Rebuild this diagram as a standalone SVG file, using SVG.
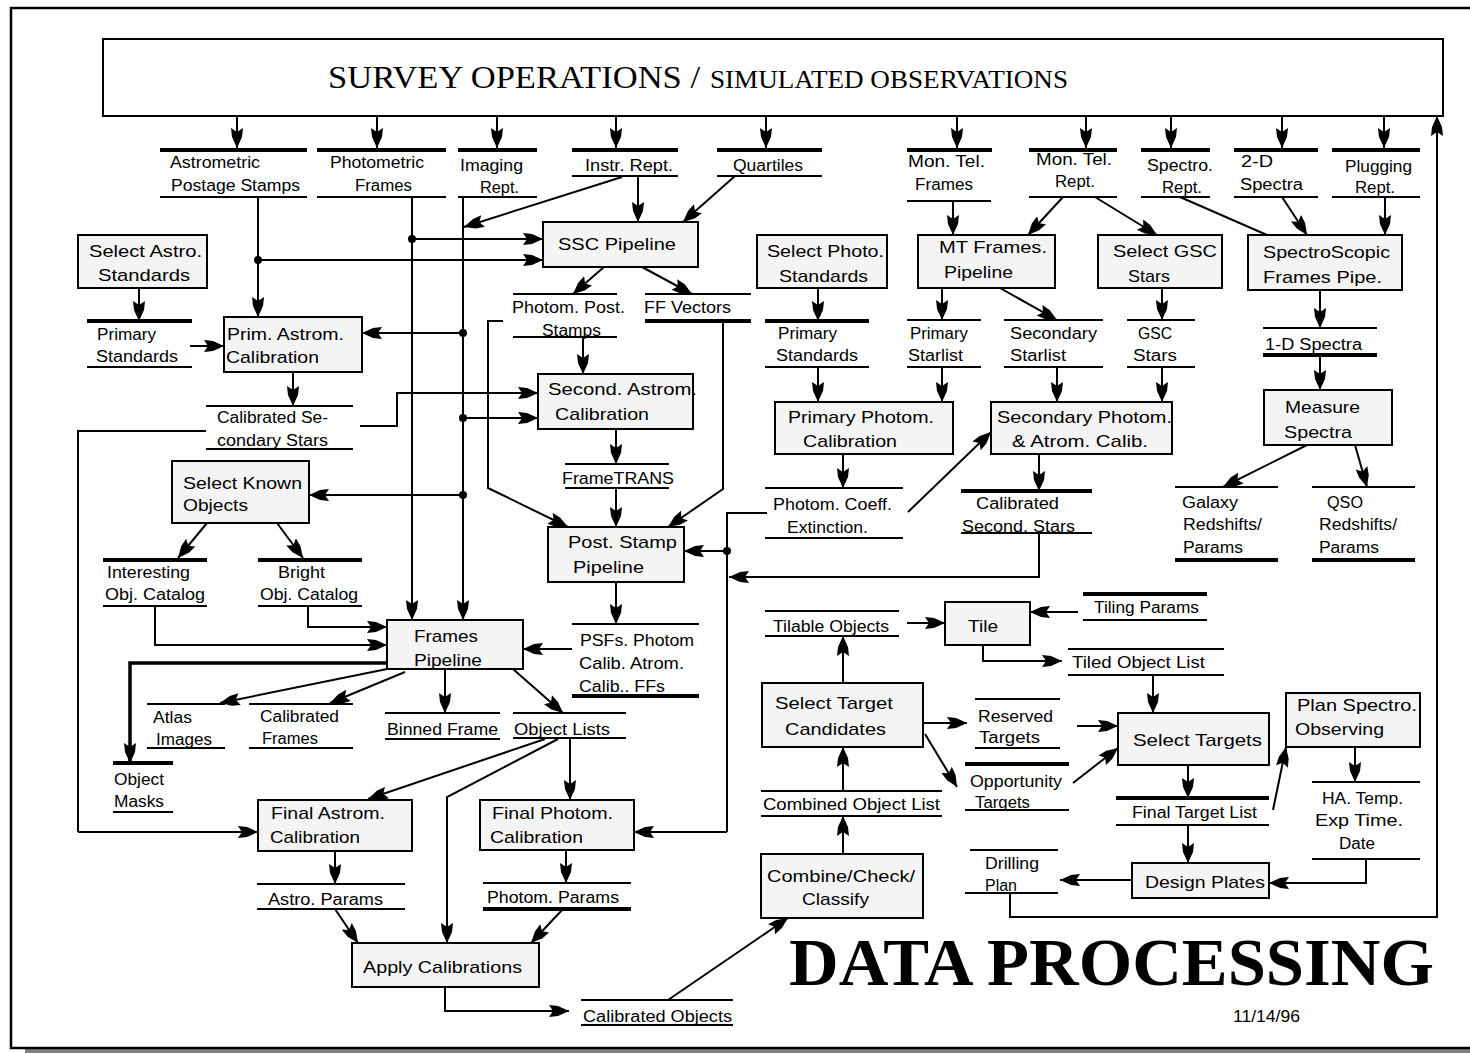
<svg xmlns="http://www.w3.org/2000/svg" width="1470" height="1053" viewBox="0 0 1470 1053">
<defs>
<marker id="ah" viewBox="0 -7 20 14" refX="20" refY="0" markerWidth="20" markerHeight="14" markerUnits="userSpaceOnUse" orient="auto"><path d="M0,-6 L9,-5 L20,0 L9,5 L0,6 L4,0 Z" fill="#000"/></marker>
<style>
.box{fill:#f4f4f4;stroke:#000;stroke-width:2}
.c{fill:none;stroke:#000;stroke-width:2}
.a{marker-end:url(#ah)}
.k{stroke-width:3.5}
.sn{stroke:#000;stroke-width:2}
.sk{stroke:#000;stroke-width:4}
.t{font-family:"Liberation Sans",Arial,Helvetica,sans-serif;font-size:16px;fill:#000}
.b{font-size:17px}
.dot{fill:#000}
</style>
</defs>
<rect x="0" y="0" width="1470" height="1053" fill="#fff"/>
<g id="frame">
<rect x="25" y="1049" width="1445" height="4" fill="#808080"/>
<path d="M1470 8H11V1048H1470" fill="none" stroke="#000" stroke-width="2.5"/>
</g>

<g id="survey">
<rect x="103" y="39" width="1340" height="77" fill="#fff" stroke="#000" stroke-width="2"/>
<text x="328" y="88" font-family="'Liberation Serif','Times New Roman',serif" fill="#000"><tspan font-size="32" textLength="372" lengthAdjust="spacingAndGlyphs">SURVEY OPERATIONS /</tspan><tspan x="710" font-size="25" textLength="358" lengthAdjust="spacingAndGlyphs">SIMULATED OBSERVATIONS</tspan></text>
</g>

<g id="connectors">
<path class="c a" d="M237 116V148"/>
<path class="c a" d="M377 116V148"/>
<path class="c a" d="M497 116V148"/>
<path class="c a" d="M616 116V148"/>
<path class="c a" d="M766 116V148"/>
<path class="c a" d="M957 116V148"/>
<path class="c a" d="M1086 116V148"/>
<path class="c a" d="M1171 116V148"/>
<path class="c a" d="M1282 116V148"/>
<path class="c a" d="M1384 116V148"/>
<path class="c a" d="M258 197V317"/>
<path class="c a" d="M258 260H543"/>
<path class="c a" d="M412 197V620"/>
<path class="c a" d="M412 239H543"/>
<path class="c a" d="M463 197V620"/>
<path class="c a" d="M463 333H362"/>
<path class="c a" d="M463 418H538"/>
<path class="c a" d="M463 495H309"/>
<path class="c a" d="M622 177L464 227"/>
<path class="c a" d="M638 176V222"/>
<path class="c a" d="M735 176L683 222"/>
<path class="c a" d="M604 267L573 294"/>
<path class="c a" d="M642 267L692 294"/>
<path class="c a" d="M139 288V321"/>
<path class="c a" d="M190 346H224"/>
<path class="c a" d="M293 372V406"/>
<path class="c a" d="M360 426H397V393H538"/>
<path class="c" d="M206 431H78V832"/>
<path class="c a" d="M78 832H258" stroke-width="3"/>
<path class="c a" d="M583 337V374"/>
<path class="c a" d="M503 321H488V488L568 527"/>
<path class="c a" d="M723 321V489L668 527"/>
<path class="c a" d="M616 429V464"/>
<path class="c a" d="M616 488V527"/>
<path class="c a" d="M207 523L178 558"/>
<path class="c a" d="M277 523L303 558"/>
<path class="c a" d="M155 606V645H387"/>
<path class="c a" d="M308 606V627H387"/>
<path class="c a k" d="M387 663H130V763"/>
<path class="c a" d="M392 668L220 703"/>
<path class="c a" d="M405 672L330 703"/>
<path class="c a" d="M445 669V713"/>
<path class="c a" d="M513 669L563 713"/>
<path class="c a" d="M616 582V624"/>
<path class="c a" d="M572 649H523"/>
<path class="c" d="M767 513H727V832"/>
<path class="c a" d="M727 832H634" stroke-width="3"/>
<path class="c a" d="M727 551H684"/>
<path class="c a" d="M1039 533V577H729"/>
<path class="c a" d="M570 738V800"/>
<path class="c a" d="M545 739L368 799"/>
<path class="c a" d="M558 739L447 797V943"/>
<path class="c a" d="M335 851V884"/>
<path class="c a" d="M335 909L358 943"/>
<path class="c a" d="M566 850V883"/>
<path class="c a" d="M563 909L531 943"/>
<path class="c a" d="M445 987V1011H569"/>
<path class="c a" d="M668 1000L788 918" stroke-width="2.5"/>
<path class="c a" d="M843 854V816"/>
<path class="c a" d="M843 791V747"/>
<path class="c a" d="M843 683V636"/>
<path class="c a" d="M907 623H945"/>
<path class="c a" d="M1078 612H1030"/>
<path class="c a" d="M983 645V661H1062" stroke-width="3"/>
<path class="c a" d="M1153 675V713"/>
<path class="c a" d="M923 723H967"/>
<path class="c a" d="M925 734L957 787"/>
<path class="c a" d="M1077 726H1118"/>
<path class="c a" d="M1073 783L1118 748"/>
<path class="c a" d="M1188 765V798"/>
<path class="c a" d="M1273 810L1286 747"/>
<path class="c a" d="M1355 747V782"/>
<path class="c a" d="M1366 859V883H1269"/>
<path class="c a" d="M1188 825V863"/>
<path class="c a" d="M1132 880H1060"/>
<path class="c a" d="M1010 893V917H1437V116"/>
<path class="c a" d="M818 288V321"/>
<path class="c a" d="M818 367V402"/>
<path class="c a" d="M953 201V235"/>
<path class="c a" d="M942 288V320"/>
<path class="c a" d="M1000 288L1057 320"/>
<path class="c a" d="M942 367V402"/>
<path class="c a" d="M1057 367V402"/>
<path class="c a" d="M1162 288V320"/>
<path class="c a" d="M1162 367V402"/>
<path class="c a" d="M1063 197L1028 235"/>
<path class="c a" d="M1095 197L1157 235"/>
<path class="c" d="M1180 197L1267 235"/>
<path class="c a" d="M1282 197L1307 235"/>
<path class="c a" d="M1385 197V235"/>
<path class="c a" d="M1320 290V328"/>
<path class="c a" d="M1320 355V390"/>
<path class="c a" d="M1307 445L1223 487"/>
<path class="c a" d="M1355 445L1367 487"/>
<path class="c a" d="M843 454V488"/>
<path class="c a" d="M908 512L991 432" stroke-width="2.5"/>
<path class="c a" d="M1039 454V491"/>
<circle class="dot" cx="258" cy="260" r="4"/>
<circle class="dot" cx="412" cy="239" r="4"/>
<circle class="dot" cx="463" cy="333" r="4"/>
<circle class="dot" cx="463" cy="418" r="4"/>
<circle class="dot" cx="463" cy="495" r="4"/>
<circle class="dot" cx="727" cy="551" r="4"/>
</g>

<!-- data stores -->
<g id="ds-astrometric"><line class="sk" x1="160" y1="150" x2="307" y2="150"/><line class="sn" x1="160" y1="197" x2="307" y2="197"/><text class="t" x="170" y="168" textLength="90" lengthAdjust="spacingAndGlyphs">Astrometric</text><text class="t" x="171" y="191" textLength="129" lengthAdjust="spacingAndGlyphs">Postage Stamps</text></g>
<g id="ds-photometric"><line class="sk" x1="317" y1="150" x2="446" y2="150"/><line class="sn" x1="317" y1="197" x2="446" y2="197"/><text class="t" x="330" y="168" textLength="94" lengthAdjust="spacingAndGlyphs">Photometric</text><text class="t" x="355" y="191" textLength="57" lengthAdjust="spacingAndGlyphs">Frames</text></g>
<g id="ds-imaging"><line class="sk" x1="458" y1="150" x2="537" y2="150"/><line class="sn" x1="458" y1="197" x2="537" y2="197"/><text class="t" x="460" y="171" textLength="63" lengthAdjust="spacingAndGlyphs">Imaging</text><text class="t" x="480" y="193" textLength="39" lengthAdjust="spacingAndGlyphs">Rept.</text></g>
<g id="ds-instr"><line class="sk" x1="572" y1="150" x2="678" y2="150"/><line class="sn" x1="572" y1="176" x2="678" y2="176"/><text class="t" x="585" y="171" textLength="88" lengthAdjust="spacingAndGlyphs">Instr. Rept.</text></g>
<g id="ds-quartiles"><line class="sk" x1="717" y1="150" x2="822" y2="150"/><line class="sn" x1="717" y1="176" x2="822" y2="176"/><text class="t" x="733" y="171" textLength="70" lengthAdjust="spacingAndGlyphs">Quartiles</text></g>
<g id="ds-montelframes"><line class="sk" x1="907" y1="150" x2="992" y2="150"/><line class="sn" x1="907" y1="201" x2="991" y2="201"/><text class="t" x="908" y="167" textLength="77" lengthAdjust="spacingAndGlyphs">Mon. Tel.</text><text class="t" x="915" y="190" textLength="58" lengthAdjust="spacingAndGlyphs">Frames</text></g>
<g id="ds-montelrept"><line class="sk" x1="1029" y1="150" x2="1117" y2="150"/><line class="sn" x1="1029" y1="197" x2="1117" y2="197"/><text class="t" x="1036" y="165" textLength="76" lengthAdjust="spacingAndGlyphs">Mon. Tel.</text><text class="t" x="1055" y="187" textLength="40" lengthAdjust="spacingAndGlyphs">Rept.</text></g>
<g id="ds-spectrorept"><line class="sk" x1="1141" y1="150" x2="1210" y2="150"/><line class="sn" x1="1141" y1="197" x2="1210" y2="197"/><text class="t" x="1147" y="171" textLength="66" lengthAdjust="spacingAndGlyphs">Spectro.</text><text class="t" x="1162" y="193" textLength="40" lengthAdjust="spacingAndGlyphs">Rept.</text></g>
<g id="ds-2dspectra"><line class="sk" x1="1234" y1="150" x2="1318" y2="150"/><line class="sn" x1="1234" y1="197" x2="1318" y2="197"/><text class="t" x="1241" y="167" textLength="32" lengthAdjust="spacingAndGlyphs">2-D</text><text class="t" x="1240" y="190" textLength="63" lengthAdjust="spacingAndGlyphs">Spectra</text></g>
<g id="ds-plugging"><line class="sk" x1="1332" y1="150" x2="1420" y2="150"/><line class="sn" x1="1332" y1="197" x2="1420" y2="197"/><text class="t" x="1345" y="172" textLength="67" lengthAdjust="spacingAndGlyphs">Plugging</text><text class="t" x="1355" y="193" textLength="40" lengthAdjust="spacingAndGlyphs">Rept.</text></g>
<g id="ds-primstd-left"><line class="sk" x1="87" y1="321" x2="192" y2="321"/><line class="sn" x1="87" y1="367" x2="192" y2="367"/><text class="t" x="97" y="340" textLength="59" lengthAdjust="spacingAndGlyphs">Primary</text><text class="t" x="96" y="362" textLength="82" lengthAdjust="spacingAndGlyphs">Standards</text></g>
<g id="ds-calsecstars"><line class="sn" x1="206" y1="406" x2="353" y2="406"/><line class="sn" x1="206" y1="449" x2="353" y2="449"/><text class="t" x="217" y="423" textLength="111" lengthAdjust="spacingAndGlyphs">Calibrated Se-</text><text class="t" x="217" y="446" textLength="111" lengthAdjust="spacingAndGlyphs">condary Stars</text></g>
<g id="ds-photompost"><line class="sn" x1="513" y1="294" x2="617" y2="294"/><line class="sn" x1="513" y1="337" x2="617" y2="337"/><text class="t" x="512" y="313" textLength="113" lengthAdjust="spacingAndGlyphs">Photom. Post.</text><text class="t" x="542" y="336" textLength="59" lengthAdjust="spacingAndGlyphs">Stamps</text></g>
<g id="ds-ffvectors"><line class="sn" x1="645" y1="294" x2="751" y2="294"/><line class="sk" x1="645" y1="321" x2="751" y2="321"/><text class="t" x="644" y="313" textLength="87" lengthAdjust="spacingAndGlyphs">FF Vectors</text></g>
<g id="ds-frametrans"><line class="sn" x1="565" y1="464" x2="669" y2="464"/><line class="sn" x1="565" y1="488" x2="669" y2="488"/><text class="t" x="562" y="484" textLength="112" lengthAdjust="spacingAndGlyphs">FrameTRANS</text></g>
<g id="ds-primstd-mid"><line class="sk" x1="765" y1="321" x2="869" y2="321"/><line class="sn" x1="765" y1="367" x2="869" y2="367"/><text class="t" x="778" y="339" textLength="59" lengthAdjust="spacingAndGlyphs">Primary</text><text class="t" x="776" y="361" textLength="82" lengthAdjust="spacingAndGlyphs">Standards</text></g>
<g id="ds-primstarlist"><line class="sn" x1="907" y1="320" x2="981" y2="320"/><line class="sn" x1="907" y1="367" x2="981" y2="367"/><text class="t" x="910" y="339" textLength="58" lengthAdjust="spacingAndGlyphs">Primary</text><text class="t" x="908" y="361" textLength="55" lengthAdjust="spacingAndGlyphs">Starlist</text></g>
<g id="ds-secstarlist"><line class="sn" x1="1004" y1="320" x2="1103" y2="320"/><line class="sn" x1="1004" y1="367" x2="1103" y2="367"/><text class="t" x="1010" y="339" textLength="87" lengthAdjust="spacingAndGlyphs">Secondary</text><text class="t" x="1010" y="361" textLength="56" lengthAdjust="spacingAndGlyphs">Starlist</text></g>
<g id="ds-gscstars"><line class="sn" x1="1127" y1="320" x2="1195" y2="320"/><line class="sn" x1="1127" y1="367" x2="1195" y2="367"/><text class="t" x="1138" y="339" textLength="34" lengthAdjust="spacingAndGlyphs">GSC</text><text class="t" x="1133" y="361" textLength="44" lengthAdjust="spacingAndGlyphs">Stars</text></g>
<g id="ds-1dspectra"><line class="sn" x1="1263" y1="328" x2="1377" y2="328"/><line class="sk" x1="1263" y1="355" x2="1377" y2="355"/><text class="t" x="1265" y="350" textLength="97" lengthAdjust="spacingAndGlyphs">1-D Spectra</text></g>
<g id="ds-photomcoeff"><line class="sn" x1="765" y1="488" x2="903" y2="488"/><line class="sn" x1="765" y1="538" x2="903" y2="538"/><text class="t" x="773" y="510" textLength="119" lengthAdjust="spacingAndGlyphs">Photom. Coeff.</text><text class="t" x="787" y="533" textLength="81" lengthAdjust="spacingAndGlyphs">Extinction.</text></g>
<g id="ds-calsecondstars"><line class="sk" x1="961" y1="491" x2="1092" y2="491"/><line class="sn" x1="961" y1="533" x2="1092" y2="533"/><text class="t" x="976" y="509" textLength="83" lengthAdjust="spacingAndGlyphs">Calibrated</text><text class="t" x="962" y="532" textLength="113" lengthAdjust="spacingAndGlyphs">Second. Stars</text></g>
<g id="ds-galaxy"><line class="sn" x1="1175" y1="487" x2="1278" y2="487"/><line class="sk" x1="1175" y1="560" x2="1278" y2="560"/><text class="t" x="1182" y="508" textLength="56" lengthAdjust="spacingAndGlyphs">Galaxy</text><text class="t" x="1183" y="530" textLength="79" lengthAdjust="spacingAndGlyphs">Redshifts/</text><text class="t" x="1183" y="553" textLength="60" lengthAdjust="spacingAndGlyphs">Params</text></g>
<g id="ds-qso"><line class="sn" x1="1312" y1="487" x2="1415" y2="487"/><line class="sk" x1="1312" y1="560" x2="1415" y2="560"/><text class="t" x="1327" y="508" textLength="36" lengthAdjust="spacingAndGlyphs">QSO</text><text class="t" x="1319" y="530" textLength="78" lengthAdjust="spacingAndGlyphs">Redshifts/</text><text class="t" x="1319" y="553" textLength="60" lengthAdjust="spacingAndGlyphs">Params</text></g>
<g id="ds-interesting"><line class="sk" x1="103" y1="560" x2="207" y2="560"/><line class="sn" x1="103" y1="606" x2="207" y2="606"/><text class="t" x="107" y="578" textLength="83" lengthAdjust="spacingAndGlyphs">Interesting</text><text class="t" x="105" y="600" textLength="100" lengthAdjust="spacingAndGlyphs">Obj. Catalog</text></g>
<g id="ds-bright"><line class="sk" x1="258" y1="560" x2="362" y2="560"/><line class="sn" x1="258" y1="606" x2="362" y2="606"/><text class="t" x="278" y="578" textLength="47" lengthAdjust="spacingAndGlyphs">Bright</text><text class="t" x="260" y="600" textLength="98" lengthAdjust="spacingAndGlyphs">Obj. Catalog</text></g>
<g id="ds-atlas"><line class="sn" x1="147" y1="704" x2="225" y2="704"/><line class="sn" x1="147" y1="748" x2="225" y2="748"/><text class="t" x="153" y="723" textLength="39" lengthAdjust="spacingAndGlyphs">Atlas</text><text class="t" x="156" y="745" textLength="56" lengthAdjust="spacingAndGlyphs">Images</text></g>
<g id="ds-calframes"><line class="sn" x1="249" y1="704" x2="353" y2="704"/><line class="sn" x1="249" y1="748" x2="353" y2="748"/><text class="t" x="260" y="722" textLength="79" lengthAdjust="spacingAndGlyphs">Calibrated</text><text class="t" x="262" y="744" textLength="56" lengthAdjust="spacingAndGlyphs">Frames</text></g>
<g id="ds-binned"><line class="sn" x1="385" y1="713" x2="500" y2="713"/><line class="sn" x1="385" y1="739" x2="500" y2="739"/><text class="t" x="387" y="735" textLength="111" lengthAdjust="spacingAndGlyphs">Binned Frame</text></g>
<g id="ds-objlists"><line class="sn" x1="513" y1="713" x2="626" y2="713"/><line class="sn" x1="513" y1="738" x2="626" y2="738"/><text class="t" x="514" y="735" textLength="96" lengthAdjust="spacingAndGlyphs">Object Lists</text></g>
<g id="ds-psfs"><line class="sn" x1="572" y1="624" x2="699" y2="624"/><line class="sk" x1="572" y1="696" x2="699" y2="696"/><text class="t" x="580" y="646" textLength="114" lengthAdjust="spacingAndGlyphs">PSFs. Photom</text><text class="t" x="579" y="669" textLength="105" lengthAdjust="spacingAndGlyphs">Calib. Atrom.</text><text class="t" x="579" y="692" textLength="86" lengthAdjust="spacingAndGlyphs">Calib.. FFs</text></g>
<g id="ds-objmasks"><line class="sk" x1="113" y1="763" x2="173" y2="763"/><line class="sn" x1="113" y1="812" x2="173" y2="812"/><text class="t" x="114" y="785" textLength="50" lengthAdjust="spacingAndGlyphs">Object</text><text class="t" x="114" y="807" textLength="50" lengthAdjust="spacingAndGlyphs">Masks</text></g>
<g id="ds-tilable"><line class="sn" x1="765" y1="611" x2="899" y2="611"/><line class="sn" x1="765" y1="636" x2="899" y2="636"/><text class="t" x="773" y="632" textLength="116" lengthAdjust="spacingAndGlyphs">Tilable Objects</text></g>
<g id="ds-tilingparams"><line class="sk" x1="1083" y1="594" x2="1207" y2="594"/><line class="sn" x1="1083" y1="620" x2="1207" y2="620"/><text class="t" x="1094" y="613" textLength="105" lengthAdjust="spacingAndGlyphs">Tiling Params</text></g>
<g id="ds-tiledlist"><line class="sn" x1="1068" y1="649" x2="1224" y2="649"/><line class="sn" x1="1068" y1="675" x2="1224" y2="675"/><text class="t" x="1072" y="668" textLength="133" lengthAdjust="spacingAndGlyphs">Tiled  Object List</text></g>
<g id="ds-reserved"><line class="sn" x1="975" y1="699" x2="1060" y2="699"/><line class="sn" x1="975" y1="748" x2="1060" y2="748"/><text class="t" x="978" y="722" textLength="75" lengthAdjust="spacingAndGlyphs">Reserved</text><text class="t" x="979" y="743" textLength="61" lengthAdjust="spacingAndGlyphs">Targets</text></g>
<g id="ds-opportunity"><line class="sk" x1="965" y1="764" x2="1069" y2="764"/><line class="sn" x1="965" y1="810" x2="1069" y2="810"/><text class="t" x="970" y="787" textLength="92" lengthAdjust="spacingAndGlyphs">Opportunity</text><text class="t" x="975" y="808" textLength="55" lengthAdjust="spacingAndGlyphs">Targets</text></g>
<g id="ds-combined"><line class="sn" x1="761" y1="791" x2="942" y2="791"/><line class="sn" x1="761" y1="816" x2="942" y2="816"/><text class="t" x="763" y="810" textLength="177" lengthAdjust="spacingAndGlyphs">Combined  Object List</text></g>
<g id="ds-finaltarget"><line class="sk" x1="1116" y1="798" x2="1269" y2="798"/><line class="sn" x1="1116" y1="825" x2="1269" y2="825"/><text class="t" x="1132" y="818" textLength="125" lengthAdjust="spacingAndGlyphs">Final Target List</text></g>
<g id="ds-hatemp"><line class="sn" x1="1312" y1="782" x2="1420" y2="782"/><line class="sn" x1="1312" y1="859" x2="1420" y2="859"/><text class="t" x="1322" y="804" textLength="81" lengthAdjust="spacingAndGlyphs">HA. Temp.</text><text class="t" x="1315" y="826" textLength="88" lengthAdjust="spacingAndGlyphs">Exp Time.</text><text class="t" x="1339" y="849" textLength="36" lengthAdjust="spacingAndGlyphs">Date</text></g>
<g id="ds-drilling"><line class="sn" x1="970" y1="850" x2="1058" y2="850"/><line class="sn" x1="965" y1="893" x2="1058" y2="893"/><text class="t" x="985" y="869" textLength="54" lengthAdjust="spacingAndGlyphs">Drilling</text><text class="t" x="985" y="891" textLength="32" lengthAdjust="spacingAndGlyphs">Plan</text></g>
<g id="ds-astroparams"><line class="sn" x1="257" y1="884" x2="405" y2="884"/><line class="sn" x1="257" y1="909" x2="405" y2="909"/><text class="t" x="268" y="905" textLength="115" lengthAdjust="spacingAndGlyphs">Astro. Params</text></g>
<g id="ds-photomparams"><line class="sn" x1="483" y1="883" x2="631" y2="883"/><line class="sk" x1="483" y1="909" x2="631" y2="909"/><text class="t" x="487" y="903" textLength="132" lengthAdjust="spacingAndGlyphs">Photom. Params</text></g>
<g id="ds-calobjects"><line class="sn" x1="581" y1="1000" x2="733" y2="1000"/><line class="sn" x1="581" y1="1025" x2="733" y2="1025"/><text class="t" x="583" y="1022" textLength="149" lengthAdjust="spacingAndGlyphs">Calibrated Objects</text></g>

<!-- process boxes -->
<g id="p-selastro"><rect class="box" x="78" y="235" width="129" height="53"/><text class="t b" x="89" y="257" textLength="113" lengthAdjust="spacingAndGlyphs">Select Astro.</text><text class="t b" x="98" y="281" textLength="92" lengthAdjust="spacingAndGlyphs">Standards</text></g>
<g id="p-ssc"><rect class="box" x="543" y="222" width="155" height="45"/><text class="t b" x="558" y="250" textLength="118" lengthAdjust="spacingAndGlyphs">SSC Pipeline</text></g>
<g id="p-selphoto"><rect class="box" x="757" y="235" width="130" height="53"/><text class="t b" x="767" y="257" textLength="117" lengthAdjust="spacingAndGlyphs">Select Photo.</text><text class="t b" x="779" y="282" textLength="89" lengthAdjust="spacingAndGlyphs">Standards</text></g>
<g id="p-mtframes"><rect class="box" x="918" y="235" width="137" height="53"/><text class="t b" x="939" y="253" textLength="108" lengthAdjust="spacingAndGlyphs">MT Frames.</text><text class="t b" x="944" y="278" textLength="69" lengthAdjust="spacingAndGlyphs">Pipeline</text></g>
<g id="p-selgsc"><rect class="box" x="1098" y="235" width="124" height="53"/><text class="t b" x="1113" y="257" textLength="104" lengthAdjust="spacingAndGlyphs">Select GSC</text><text class="t b" x="1128" y="282" textLength="42" lengthAdjust="spacingAndGlyphs">Stars</text></g>
<g id="p-spectroscopic"><rect class="box" x="1248" y="235" width="154" height="55"/><text class="t b" x="1263" y="258" textLength="127" lengthAdjust="spacingAndGlyphs">SpectroScopic</text><text class="t b" x="1263" y="283" textLength="119" lengthAdjust="spacingAndGlyphs">Frames Pipe.</text></g>
<g id="p-primastrom"><rect class="box" x="224" y="317" width="138" height="55"/><text class="t b" x="227" y="340" textLength="117" lengthAdjust="spacingAndGlyphs">Prim. Astrom.</text><text class="t b" x="226" y="363" textLength="93" lengthAdjust="spacingAndGlyphs">Calibration</text></g>
<g id="p-secastrom"><rect class="box" x="538" y="374" width="155" height="55"/><text class="t b" x="548" y="395" textLength="149" lengthAdjust="spacingAndGlyphs">Second. Astrom.</text><text class="t b" x="555" y="420" textLength="94" lengthAdjust="spacingAndGlyphs">Calibration</text></g>
<g id="p-primphotom"><rect class="box" x="775" y="402" width="178" height="52"/><text class="t b" x="788" y="423" textLength="146" lengthAdjust="spacingAndGlyphs">Primary Photom.</text><text class="t b" x="803" y="447" textLength="94" lengthAdjust="spacingAndGlyphs">Calibration</text></g>
<g id="p-secphotom"><rect class="box" x="991" y="402" width="181" height="52"/><text class="t b" x="997" y="423" textLength="175" lengthAdjust="spacingAndGlyphs">Secondary Photom.</text><text class="t b" x="1012" y="447" textLength="136" lengthAdjust="spacingAndGlyphs">&amp; Atrom. Calib.</text></g>
<g id="p-measure"><rect class="box" x="1264" y="390" width="128" height="55"/><text class="t b" x="1285" y="413" textLength="75" lengthAdjust="spacingAndGlyphs">Measure</text><text class="t b" x="1284" y="438" textLength="68" lengthAdjust="spacingAndGlyphs">Spectra</text></g>
<g id="p-selknown"><rect class="box" x="172" y="461" width="137" height="62"/><text class="t b" x="183" y="489" textLength="119" lengthAdjust="spacingAndGlyphs">Select Known</text><text class="t b" x="183" y="511" textLength="65" lengthAdjust="spacingAndGlyphs">Objects</text></g>
<g id="p-poststamp"><rect class="box" x="548" y="527" width="136" height="55"/><text class="t b" x="568" y="548" textLength="109" lengthAdjust="spacingAndGlyphs">Post. Stamp</text><text class="t b" x="573" y="573" textLength="71" lengthAdjust="spacingAndGlyphs">Pipeline</text></g>
<g id="p-frames"><rect class="box" x="387" y="620" width="136" height="49"/><text class="t b" x="414" y="642" textLength="64" lengthAdjust="spacingAndGlyphs">Frames</text><text class="t b" x="414" y="666" textLength="68" lengthAdjust="spacingAndGlyphs">Pipeline</text></g>
<g id="p-tile"><rect class="box" x="945" y="602" width="85" height="43"/><text class="t b" x="968" y="632" textLength="30" lengthAdjust="spacingAndGlyphs">Tile</text></g>
<g id="p-seltargetcand"><rect class="box" x="762" y="683" width="161" height="64"/><text class="t b" x="775" y="709" textLength="118" lengthAdjust="spacingAndGlyphs">Select Target</text><text class="t b" x="785" y="735" textLength="101" lengthAdjust="spacingAndGlyphs">Candidates</text></g>
<g id="p-seltargets"><rect class="box" x="1118" y="713" width="151" height="52"/><text class="t b" x="1133" y="746" textLength="129" lengthAdjust="spacingAndGlyphs">Select Targets</text></g>
<g id="p-planspectro"><rect class="box" x="1286" y="693" width="134" height="54"/><text class="t b" x="1297" y="711" textLength="120" lengthAdjust="spacingAndGlyphs">Plan Spectro.</text><text class="t b" x="1295" y="735" textLength="89" lengthAdjust="spacingAndGlyphs">Observing</text></g>
<g id="p-finalastrom"><rect class="box" x="258" y="800" width="154" height="51"/><text class="t b" x="271" y="819" textLength="114" lengthAdjust="spacingAndGlyphs">Final Astrom.</text><text class="t b" x="270" y="843" textLength="90" lengthAdjust="spacingAndGlyphs">Calibration</text></g>
<g id="p-finalphotom"><rect class="box" x="480" y="800" width="154" height="50"/><text class="t b" x="492" y="819" textLength="121" lengthAdjust="spacingAndGlyphs">Final Photom.</text><text class="t b" x="490" y="843" textLength="93" lengthAdjust="spacingAndGlyphs">Calibration</text></g>
<g id="p-apply"><rect class="box" x="352" y="943" width="187" height="44"/><text class="t b" x="363" y="973" textLength="159" lengthAdjust="spacingAndGlyphs">Apply Calibrations</text></g>
<g id="p-combine"><rect class="box" x="761" y="854" width="162" height="64"/><text class="t b" x="767" y="882" textLength="148" lengthAdjust="spacingAndGlyphs">Combine/Check/</text><text class="t b" x="802" y="905" textLength="67" lengthAdjust="spacingAndGlyphs">Classify</text></g>
<g id="p-design"><rect class="box" x="1132" y="863" width="137" height="35"/><text class="t b" x="1145" y="888" textLength="120" lengthAdjust="spacingAndGlyphs">Design  Plates</text></g>

<g id="labels">
<text x="789" y="985" font-family="'Liberation Serif','Times New Roman',serif" font-weight="bold" font-size="68" textLength="645" lengthAdjust="spacingAndGlyphs" fill="#000">DATA PROCESSING</text>
<text class="t" x="1233" y="1022" font-size="15" textLength="67" lengthAdjust="spacingAndGlyphs">11/14/96</text>
</g>
</svg>
